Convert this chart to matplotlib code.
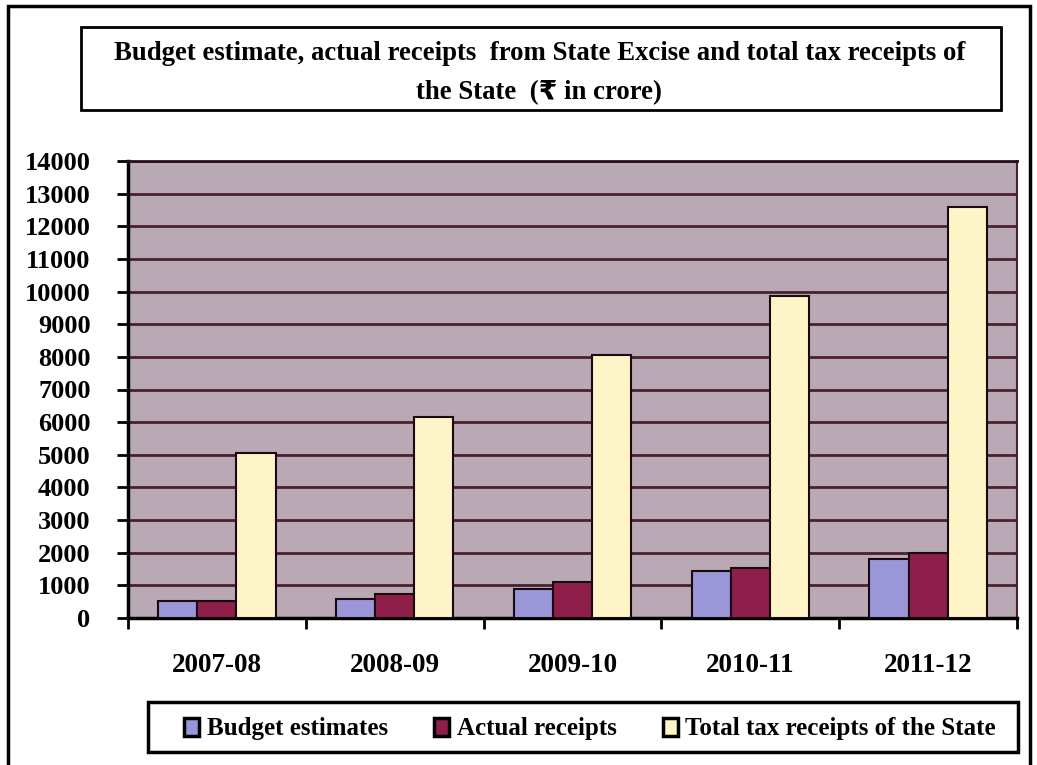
import matplotlib.pyplot as plt
import matplotlib.patches as patches
import numpy as np

plt.rcParams['font.family'] = ['Liberation Serif', 'DejaVu Sans']
plt.rcParams['font.weight'] = 'bold'

years = ["2007-08", "2008-09", "2009-10", "2010-11", "2011-12"]
budget = [530, 580, 900, 1430, 1815]
actual = [525, 725, 1100, 1520, 1990]
total_tax = [5070, 6160, 8060, 9870, 12600]

series_names = ["Budget estimates", "Actual receipts", "Total tax receipts of the State"]
series_colors = ["#9a96d8", "#8e1f4a", "#fdf5c8"]

W, H = 1037, 765
fig = plt.figure(figsize=(W / 100, H / 100), dpi=100)

def fx(px):
    return px / W

def fy(py):
    return 1 - py / H

def box(x0, y0, x1, y1, lw):
    fig.patches.append(patches.Rectangle((fx(x0), fy(y1)), fx(x1) - fx(x0), fy(y0) - fy(y1),
                                         transform=fig.transFigure, fill=False,
                                         edgecolor="black", linewidth=lw))

# outer frame, title box, legend box
box(8, 6, 1030, 768, 2.5)
box(81, 27, 1001, 110, 2)
box(148, 702, 1018, 752, 2.5)

fig.text(fx(540), fy(54), "Budget estimate, actual receipts  from State Excise and total tax receipts of",
         ha="center", va="center", fontsize=19.3, fontweight="bold")
fig.text(fx(539), fy(93), "the State  (\u20b9 in crore)",
         ha="center", va="center", fontsize=19.3, fontweight="bold")

ax = fig.add_axes([fx(128), fy(618), fx(1017) - fx(128), fy(161) - fy(618)])
ax.set_facecolor("#b9a9b5")

x = np.arange(len(years))
w = 0.22
data = [budget, actual, total_tax]
bars = []
for i, vals in enumerate(data):
    b = ax.bar(x + (i - 1) * w, vals, w, color=series_colors[i],
               edgecolor="#1a0a10", linewidth=1.5, zorder=3, label=series_names[i])
    bars.append(b)

ax.set_ylim(0, 14000)
ax.set_xlim(-0.5, len(years) - 0.5)
ax.set_yticks(np.arange(0, 14001, 1000))
ax.yaxis.grid(True, color="#4a2030", linewidth=2, zorder=1)
ax.set_axisbelow(True)
ax.tick_params(axis="y", direction="out", length=8, width=2, labelsize=19, pad=19)

ax.set_xticks(x)
ax.set_xticklabels(years)
ax.set_xticks(np.arange(-0.5, len(years)), minor=True)
ax.tick_params(axis="x", which="major", length=0, labelsize=19.5, pad=25)
ax.tick_params(axis="x", which="minor", direction="out", length=8, width=2)
for lbl in ax.get_xticklabels() + ax.get_yticklabels():
    lbl.set_fontweight("bold")

for side in ["left", "bottom"]:
    ax.spines[side].set_linewidth(2.5)
    ax.spines[side].set_color("black")
ax.spines["top"].set_linewidth(2)
ax.spines["top"].set_color("#2a1018")
ax.spines["right"].set_linewidth(1.5)
ax.spines["right"].set_color("#4a2030")

leg = fig.legend(handles=bars, labels=series_names, ncol=3,
                 loc="center", bbox_to_anchor=(fx(590), fy(729)),
                 frameon=False, fontsize=18,
                 handlelength=0.6, handleheight=0.7, handletextpad=0.3, columnspacing=1.85,
                 borderaxespad=0)
for p in leg.legend_handles:
    p.set_edgecolor("black")
    p.set_linewidth(2.5)
for t in leg.get_texts():
    t.set_fontweight("bold")

fig.savefig("out.png", dpi=100)
